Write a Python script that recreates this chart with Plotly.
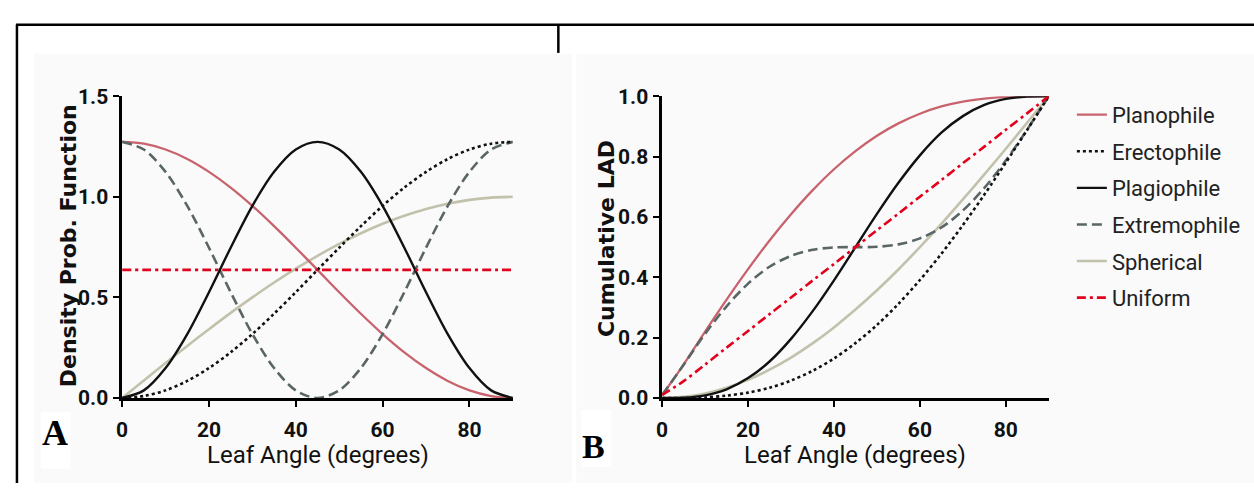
import plotly.graph_objects as go

W, H = 1254, 495

# Leaf inclination angle (degrees)
angle = [0, 5, 10, 15, 20, 25, 30, 35, 40, 45, 50, 55, 60, 65, 70, 75, 80, 85, 90]

# Panel A: density probability functions
pdf_planophile = [1.273, 1.264, 1.235, 1.188, 1.124, 1.046, 0.955, 0.854, 0.747, 0.637,
                  0.526, 0.419, 0.318, 0.227, 0.149, 0.085, 0.038, 0.010, 0.000]
pdf_erectophile = [0.000, 0.010, 0.038, 0.085, 0.149, 0.227, 0.318, 0.419, 0.526, 0.637,
                   0.747, 0.854, 0.955, 1.046, 1.124, 1.188, 1.235, 1.264, 1.273]
pdf_plagiophile = [0.000, 0.038, 0.149, 0.318, 0.526, 0.747, 0.955, 1.124, 1.235, 1.273,
                   1.235, 1.124, 0.955, 0.747, 0.526, 0.318, 0.149, 0.038, 0.000]
pdf_extremophile = [1.273, 1.235, 1.124, 0.955, 0.747, 0.526, 0.318, 0.149, 0.038, 0.000,
                    0.038, 0.149, 0.318, 0.526, 0.747, 0.955, 1.124, 1.235, 1.273]
pdf_spherical = [0.000, 0.087, 0.174, 0.259, 0.342, 0.423, 0.500, 0.574, 0.643, 0.707,
                 0.766, 0.819, 0.866, 0.906, 0.940, 0.966, 0.985, 0.996, 1.000]
pdf_uniform = [0.637, 0.637, 0.637, 0.637, 0.637, 0.637, 0.637, 0.637, 0.637, 0.637,
               0.637, 0.637, 0.637, 0.637, 0.637, 0.637, 0.637, 0.637, 0.637]

# Panel B: cumulative leaf angle distribution
cdf_planophile = [0.010, 0.111, 0.220, 0.326, 0.427, 0.522, 0.609, 0.688, 0.758, 0.818,
                  0.869, 0.910, 0.942, 0.966, 0.982, 0.992, 0.998, 1.000, 1.000]
cdf_erectophile = [0.000, 0.000, 0.002, 0.008, 0.018, 0.034, 0.058, 0.090, 0.131, 0.182,
                   0.242, 0.312, 0.391, 0.478, 0.573, 0.674, 0.780, 0.889, 1.000]
cdf_plagiophile = [0.000, 0.001, 0.009, 0.029, 0.066, 0.121, 0.196, 0.287, 0.390, 0.500,
                   0.610, 0.713, 0.804, 0.879, 0.934, 0.971, 0.991, 0.999, 1.000]
cdf_extremophile = [0.010, 0.110, 0.213, 0.304, 0.379, 0.435, 0.471, 0.491, 0.499, 0.500,
                    0.501, 0.509, 0.529, 0.565, 0.621, 0.696, 0.787, 0.890, 1.000]
cdf_spherical = [0.000, 0.004, 0.015, 0.034, 0.060, 0.094, 0.134, 0.181, 0.234, 0.293,
                 0.357, 0.426, 0.500, 0.577, 0.658, 0.741, 0.826, 0.913, 1.000]
cdf_uniform = [0.010, 0.056, 0.111, 0.167, 0.222, 0.278, 0.333, 0.389, 0.444, 0.500,
               0.556, 0.611, 0.667, 0.722, 0.778, 0.833, 0.889, 0.944, 1.000]

series_names = ["Planophile", "Erectophile", "Plagiophile",
                "Extremophile", "Spherical", "Uniform"]
pdf_series = [pdf_planophile, pdf_erectophile, pdf_plagiophile,
              pdf_extremophile, pdf_spherical, pdf_uniform]
cdf_series = [cdf_planophile, cdf_erectophile, cdf_plagiophile,
              cdf_extremophile, cdf_spherical, cdf_uniform]

x_ticks = [0, 20, 40, 60, 80]
pdf_ticks = [0.0, 0.5, 1.0, 1.5]
cdf_ticks = [0.0, 0.2, 0.4, 0.6, 0.8, 1.0]

styles = {
    "Planophile":   dict(color="#c8636d", width=2.3, dash="solid"),
    "Erectophile":  dict(color="#111111", width=2.6, dash="3px,3px"),
    "Plagiophile":  dict(color="#111111", width=2.4, dash="solid"),
    "Extremophile": dict(color="#5a6565", width=2.6, dash="10px,5px"),
    "Spherical":    dict(color="#c2c2ac", width=2.6, dash="solid"),
    "Uniform":      dict(color="#e2001c", width=2.6, dash="9px,4px,3px,4px"),
}
# stacking order of the curves (first drawn lies at the bottom)
draw_order = ["Spherical", "Planophile", "Extremophile",
              "Erectophile", "Plagiophile", "Uniform"]

TEXT_FONT = "Roboto, Liberation Sans, sans-serif"
SERIF = "Liberation Serif, Times New Roman, serif"
WIDE_BOLD = "DejaVu Sans, Liberation Sans, sans-serif"


def px_x(p):
    return p / W


def px_y(p):
    return 1 - p / H


fig = go.Figure()

for name in draw_order:
    i = series_names.index(name)
    st = styles[name]
    line = dict(color=st["color"], width=st["width"], dash=st["dash"],
                shape="spline", smoothing=0.9)
    fig.add_trace(go.Scatter(x=angle, y=pdf_series[i], mode="lines", name=name,
                             line=line, xaxis="x", yaxis="y",
                             showlegend=False, hoverinfo="skip"))
    fig.add_trace(go.Scatter(x=angle, y=cdf_series[i], mode="lines", name=name,
                             line=line, xaxis="x2", yaxis="y2",
                             legendgroup=name, legendrank=i + 1,
                             showlegend=True, hoverinfo="skip"))

axis_common = dict(
    showline=True, linecolor="#000000", linewidth=2.5,
    ticks="outside", ticklen=6, tickwidth=2.2, tickcolor="#000000",
    showgrid=False, zeroline=False, fixedrange=True,
    tickfont=dict(family=TEXT_FONT, size=21, color="#111111", weight="bold"),
)

y_top, y_bot = 88.5, 405.7
fig.update_layout(
    width=W, height=H,
    margin=dict(l=0, r=0, t=0, b=0),
    paper_bgcolor="#ffffff",
    plot_bgcolor="rgba(0,0,0,0)",
    xaxis=dict(domain=[px_x(116.7), px_x(509.3)], range=[0, 90],
               tickvals=x_ticks, anchor="y", ticklabelstandoff=5, **axis_common),
    yaxis=dict(domain=[px_y(y_bot), px_y(y_top)], range=[0, 1.5],
               tickvals=pdf_ticks, tickformat=".1f", anchor="x",
               ticklabelstandoff=1, **axis_common),
    xaxis2=dict(domain=[px_x(659.3), px_x(1047.8)], range=[0, 90],
                tickvals=x_ticks, anchor="y2", ticklabelstandoff=5, **axis_common),
    yaxis2=dict(domain=[px_y(y_bot), px_y(y_top)], range=[0, 1.0],
                tickvals=cdf_ticks, tickformat=".1f", anchor="x2",
                ticklabelstandoff=1, **axis_common),
    legend=dict(x=px_x(1071), y=px_y(86), xanchor="left", yanchor="top",
                bgcolor="rgba(0,0,0,0)", borderwidth=0,
                font=dict(family=TEXT_FONT, size=22, color="#222222"),
                traceorder="grouped", tracegroupgap=5, itemwidth=30),
    showlegend=True,
)

# frame lines and panel backgrounds
shapes = [
    dict(type="rect", xref="paper", yref="paper", layer="below",
         x0=px_x(28), x1=px_x(569), y0=0, y1=px_y(44),
         fillcolor="#fafafa", line=dict(width=0)),
    dict(type="rect", xref="paper", yref="paper", layer="below",
         x0=px_x(573), x1=1, y0=0, y1=px_y(44),
         fillcolor="#fafafa", line=dict(width=0)),
    dict(type="rect", xref="paper", yref="paper", layer="below",
         x0=px_x(35), x1=px_x(65), y0=px_y(480), y1=px_y(420),
         fillcolor="#ffffff", line=dict(width=0)),
    dict(type="rect", xref="paper", yref="paper", layer="below",
         x0=px_x(578), x1=px_x(608), y0=px_y(478), y1=px_y(418),
         fillcolor="#ffffff", line=dict(width=0)),
    dict(type="line", xref="paper", yref="paper",
         x0=px_x(10), x1=1, y0=px_y(13.5), y1=px_y(13.5),
         line=dict(color="#000000", width=2.5)),
    dict(type="line", xref="paper", yref="paper",
         x0=px_x(11), x1=px_x(11), y0=0, y1=px_y(13.5),
         line=dict(color="#000000", width=2.5)),
    dict(type="line", xref="paper", yref="paper",
         x0=px_x(555), x1=px_x(555), y0=px_y(43), y1=px_y(13.5),
         line=dict(color="#000000", width=2.5)),
]
fig.update_layout(shapes=shapes)

annotations = [
    dict(text="Leaf Angle (degrees)", x=px_x(313), y=px_y(466),
         font=dict(family=TEXT_FONT, size=24, color="#111111")),
    dict(text="Leaf Angle (degrees)", x=px_x(853), y=px_y(466),
         font=dict(family=TEXT_FONT, size=24, color="#111111")),
    dict(text="Density Prob. Function", x=px_x(62.5), y=px_y(246), textangle=-90,
         font=dict(family=WIDE_BOLD, size=22, color="#111111", weight="bold")),
    dict(text="Cumulative LAD", x=px_x(603.5), y=px_y(238), textangle=-90,
         font=dict(family=WIDE_BOLD, size=22, color="#111111", weight="bold")),
    dict(text="A", x=px_x(49.5), y=px_y(442),
         font=dict(family=SERIF, size=36, color="#000000", weight="bold")),
    dict(text="B", x=px_x(590), y=px_y(457),
         font=dict(family=SERIF, size=34, color="#000000", weight="bold")),
]
for a in annotations:
    a.update(xref="paper", yref="paper", showarrow=False,
             xanchor="center", yanchor="middle")
fig.update_layout(annotations=annotations)

fig.write_html(
    "out.html",
    config={"displayModeBar": False},
    post_script="document.body.style.margin='0';",
)
